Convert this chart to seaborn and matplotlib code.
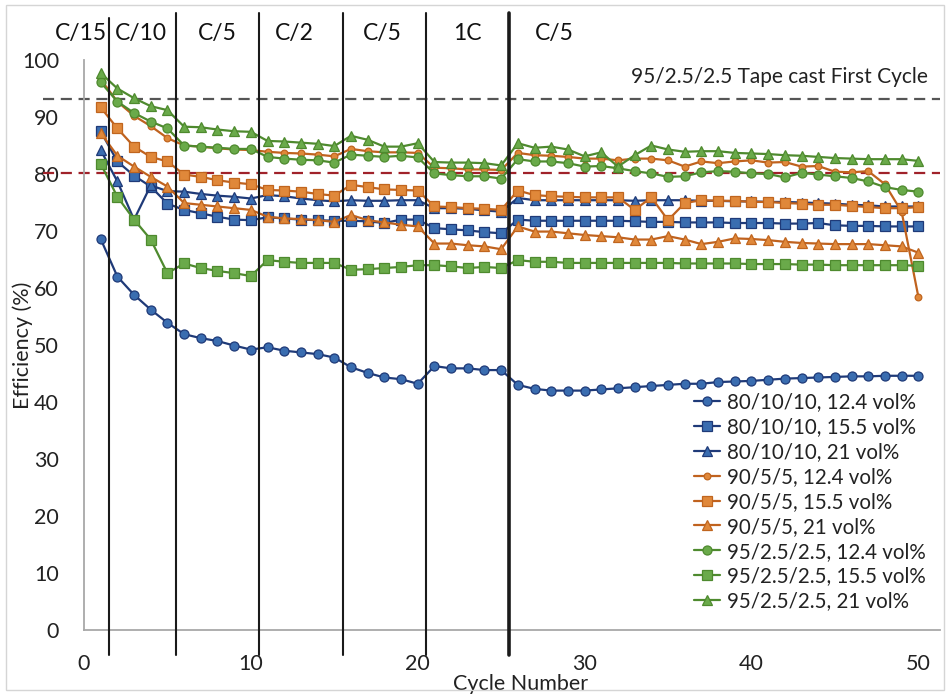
import matplotlib
matplotlib.use("Agg")
import matplotlib.pyplot as plt
import seaborn as sns
import pandas as pd
import numpy as np
from matplotlib.patches import Rectangle

sns.set_style("white")
plt.rcParams['font.family'] = ['Lato', 'DejaVu Sans']

cycles = list(range(1, 51))

s80_124 = [68.6, 62.0, 58.8, 56.2, 53.9, 51.9, 51.2, 50.7, 49.9, 49.2,
           49.6, 49.0, 48.7, 48.4, 47.8, 46.1, 45.1, 44.3, 44.0, 43.2,
           46.3, 45.9, 45.9, 45.6, 45.6, 43.0, 42.3, 42.0, 42.0, 42.0,
           42.2, 42.4, 42.6, 42.8, 43.0, 43.2, 43.2, 43.5, 43.6, 43.7,
           43.9, 44.1, 44.2, 44.3, 44.4, 44.5, 44.5, 44.6, 44.6, 44.6]
s80_155 = [87.5, 82.2, 79.7, 77.8, 74.8, 73.7, 73.1, 72.5, 72.0, 71.9,
           72.4, 72.2, 72.0, 71.9, 71.8, 71.8, 71.7, 71.4, 72.0, 72.0,
           70.5, 70.3, 70.1, 69.8, 69.6, 72.0, 71.8, 71.8, 71.8, 71.8,
           71.8, 71.8, 71.7, 71.6, 71.6, 71.5, 71.5, 71.5, 71.4, 71.4,
           71.4, 71.3, 71.3, 71.4, 71.0, 70.9, 70.9, 70.8, 70.8, 70.8]
s80_21 = [84.2, 78.7, 72.0, 78.0, 77.0, 76.9, 76.5, 76.2, 76.0, 75.7,
          76.3, 76.1, 75.7, 75.4, 75.2, 75.4, 75.3, 75.3, 75.4, 75.4,
          74.0, 74.0, 73.9, 73.6, 73.4, 75.8, 75.4, 75.4, 75.4, 75.4,
          75.4, 75.4, 75.3, 75.4, 75.4, 75.4, 75.3, 75.3, 75.2, 75.2,
          75.1, 75.1, 75.0, 74.9, 74.8, 74.6, 74.5, 74.3, 74.3, 74.3]
s90_124 = [96.6, 92.7, 90.2, 88.4, 86.3, 85.0, 84.8, 84.5, 84.3, 84.2,
           83.9, 83.7, 83.6, 83.4, 83.1, 84.4, 84.0, 83.8, 83.8, 83.7,
           81.1, 81.0, 80.8, 80.8, 80.7, 83.7, 83.3, 83.2, 83.0, 82.7,
           82.7, 82.4, 82.7, 82.7, 82.4, 81.3, 82.2, 81.9, 82.2, 82.4,
           82.0, 82.1, 81.3, 81.4, 80.4, 80.3, 80.5, 78.2, 73.4, 58.5]
s90_155 = [91.7, 88.0, 84.8, 83.0, 82.2, 79.9, 79.5, 78.9, 78.5, 78.2,
           77.2, 77.1, 76.9, 76.5, 76.2, 78.1, 77.7, 77.3, 77.2, 77.1,
           74.3, 74.2, 74.0, 73.9, 73.7, 77.1, 76.3, 76.1, 76.0, 75.9,
           75.9, 75.9, 73.7, 75.9, 71.9, 74.9, 75.4, 75.3, 75.3, 75.1,
           75.1, 74.9, 74.8, 74.6, 74.6, 74.4, 74.2, 74.0, 74.0, 74.2]
s90_21 = [87.2, 83.2, 81.3, 79.5, 77.8, 74.9, 74.6, 74.3, 74.0, 73.7,
          72.5, 72.2, 72.1, 71.9, 71.6, 72.8, 71.9, 71.5, 71.1, 70.8,
          67.8, 67.8, 67.5, 67.3, 66.8, 70.8, 69.9, 69.9, 69.6, 69.3,
          69.1, 68.9, 68.5, 68.5, 69.1, 68.5, 67.7, 68.1, 68.7, 68.6,
          68.4, 68.1, 67.9, 67.8, 67.7, 67.7, 67.7, 67.5, 67.3, 66.2]
s95_124 = [96.1, 92.7, 90.7, 89.2, 88.0, 85.0, 84.8, 84.6, 84.4, 84.4,
           83.0, 82.7, 82.5, 82.4, 82.0, 83.4, 83.2, 83.0, 83.2, 82.9,
           80.1, 79.8, 79.6, 79.6, 79.2, 82.6, 82.2, 82.2, 81.9, 81.3,
           81.4, 81.0, 80.5, 80.1, 79.5, 79.6, 80.3, 80.5, 80.4, 80.1,
           80.0, 79.4, 80.2, 79.9, 79.6, 79.3, 78.7, 77.7, 77.2, 76.9]
s95_155 = [81.8, 76.0, 72.0, 68.5, 62.6, 64.3, 63.5, 63.0, 62.6, 62.1,
           64.9, 64.6, 64.4, 64.4, 64.4, 63.2, 63.3, 63.5, 63.7, 64.0,
           64.0, 63.8, 63.5, 63.7, 63.5, 64.9, 64.6, 64.6, 64.4, 64.4,
           64.4, 64.4, 64.4, 64.4, 64.4, 64.3, 64.3, 64.3, 64.3, 64.2,
           64.2, 64.2, 64.1, 64.1, 64.0, 64.0, 64.0, 64.0, 64.0, 63.9]
s95_21 = [97.7, 95.0, 93.3, 91.9, 91.2, 88.3, 88.2, 87.8, 87.5, 87.4,
          85.8, 85.7, 85.5, 85.3, 84.9, 86.7, 86.0, 84.8, 84.8, 85.4,
          82.1, 82.0, 82.0, 81.9, 81.5, 85.4, 84.6, 84.8, 84.3, 83.1,
          83.8, 81.3, 83.3, 85.0, 84.3, 83.9, 84.0, 84.0, 83.7, 83.6,
          83.5, 83.3, 83.2, 83.0, 82.8, 82.7, 82.6, 82.6, 82.6, 82.3]

labels = ["80/10/10, 12.4 vol%", "80/10/10, 15.5 vol%", "80/10/10, 21 vol%",
          "90/5/5, 12.4 vol%", "90/5/5, 15.5 vol%", "90/5/5, 21 vol%",
          "95/2.5/2.5, 12.4 vol%", "95/2.5/2.5, 15.5 vol%", "95/2.5/2.5, 21 vol%"]
series = [s80_124, s80_155, s80_21, s90_124, s90_155, s90_21, s95_124, s95_155, s95_21]

rate_labels = ["C/15", "C/10", "C/5", "C/2", "C/5", "1C", "C/5"]
rate_label_x = [-0.2, 3.4, 8.0, 12.6, 17.9, 23.0, 28.2]
rate_bounds = [1.5, 5.5, 10.5, 15.5, 20.5, 25.5]
tape_cast_first = 93.2
target_line = 80.2

# style per family
fam_style = {
    "80": dict(line="#1F3A78", face="#3A6DB0", edge="#1F3A78"),
    "90": dict(line="#C0621E", face="#E0883A", edge="#C0651E"),
    "95": dict(line="#4E8A2E", face="#6AAA4A", edge="#4E8A2E"),
}
mk = {"12.4": ("o", 6.5), "15.5": ("s", 6.5), "21": ("^", 7.0)}

fig = plt.figure(figsize=(9.49, 6.94), dpi=100)
ax = fig.add_axes([84 / 949, 64 / 694, (940 - 84) / 949, 570 / 694])

for lab, vals in zip(labels, series):
    fam = lab.split("/")[0]
    vol = lab.split(", ")[1].split(" ")[0]
    st = fam_style[fam]
    m, ms = mk[vol]
    if fam == "90" and vol == "12.4":
        ms = 4.8
    df = pd.DataFrame({"Cycle": cycles, "Eff": vals})
    sns.lineplot(data=df, x="Cycle", y="Eff", ax=ax, color=st["line"], lw=1.6,
                 marker=m, markersize=ms, markerfacecolor=st["face"],
                 markeredgecolor=st["edge"], markeredgewidth=0.9, label=lab,
                 legend=False, zorder=3)

ax.set_xlim(0, 51.3)
ax.set_ylim(0, 100)
ax.set_xticks([0, 10, 20, 30, 40, 50])
ax.set_yticks(range(0, 101, 10))
ax.tick_params(axis="both", length=0, labelsize=15.5, colors="#222222")
ax.tick_params(axis="y", pad=18)
ax.tick_params(axis="x", pad=17)
for sp in ["top", "right"]:
    ax.spines[sp].set_visible(False)
for sp in ["left", "bottom"]:
    ax.spines[sp].set_color("#A8A8A8")
    ax.spines[sp].set_linewidth(1.3)

ax.set_xlabel("Cycle Number", fontsize=15.5, color="#222222")
ax.xaxis.set_label_coords(0.51, -0.078)
ax.set_ylabel("Efficiency (%)", fontsize=15.5, color="#222222")
ax.yaxis.set_label_coords(-0.059, 0.5)

# horizontal reference lines (extend left of axis)
xmin_frac = (43 - 84) / (940 - 84)
ax.axhline(tape_cast_first, xmin=xmin_frac, xmax=1.0, color="#555555", lw=1.6,
           dashes=(5, 3), clip_on=False, zorder=2)
ax.axhline(target_line, xmin=xmin_frac, xmax=1.0, color="#A0222A", lw=1.6,
           dashes=(5, 3), clip_on=False, zorder=2)
ax.text(50.6, 95.3, "95/2.5/2.5 Tape cast First Cycle", ha="right", va="bottom",
        fontsize=15, color="#222222")

# C-rate boundaries
for i, b in enumerate(rate_bounds):
    lw = 2.6 if b == 25.5 else 1.5
    top = 107.3 if i == 0 else 108.2
    ax.plot([b, b], [-4.4, top], color="#1A1A1A", lw=lw, clip_on=False, zorder=4)
for t, x in zip(rate_labels, rate_label_x):
    ax.text(x, 104.7, t, ha="center", va="center", fontsize=16.5, color="#111111",
            clip_on=False)

leg = ax.legend(loc="upper left", bbox_to_anchor=(694 / 949, 1 - 392 / 694),
                bbox_transform=fig.transFigure, frameon=False, fontsize=14.8,
                handlelength=1.25, handletextpad=0.35, labelspacing=0.24,
                borderpad=0, borderaxespad=0)
for t in leg.get_texts():
    t.set_color("#222222")

# light border around the chart area
fig.patches.append(Rectangle((6 / 949, 4 / 694), 938 / 949, 685 / 694,
                             transform=fig.transFigure, fill=False,
                             edgecolor="#D5D5D5", lw=1.0))

fig.savefig("out.png", dpi=100)
